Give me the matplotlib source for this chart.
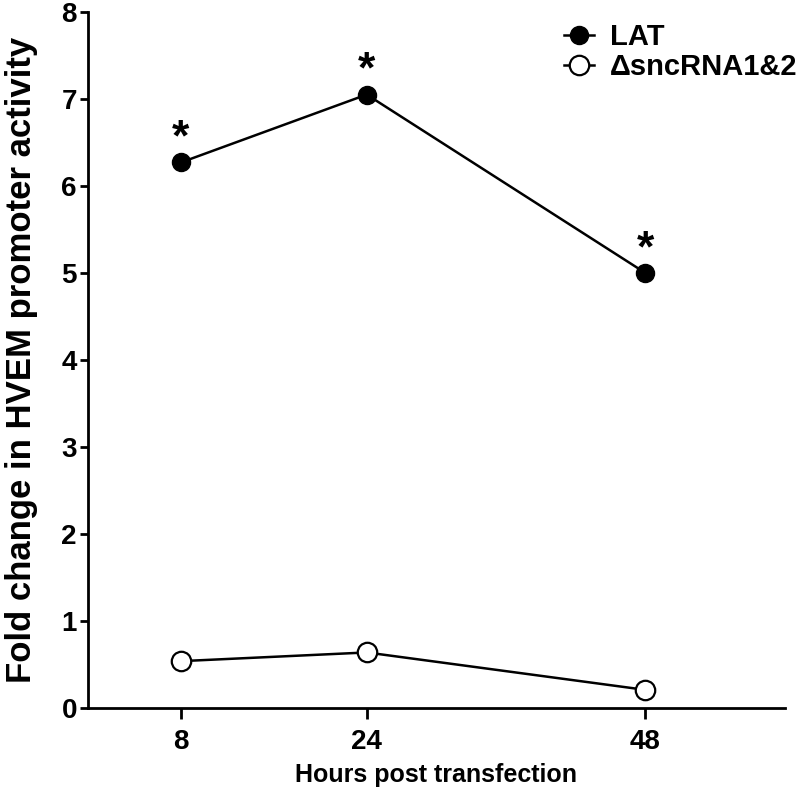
import matplotlib
matplotlib.use("Agg")
import matplotlib.pyplot as plt

hours = [8, 24, 48]
lat = [6.27, 7.05, 5.00]
delta = [0.54, 0.64, 0.21]
star_offset = 0.27

plt.rcParams["font.family"] = ["Liberation Sans", "DejaVu Sans"]
plt.rcParams["font.weight"] = "bold"

fig = plt.figure(figsize=(8, 7.93), dpi=100)
ax = fig.add_axes([0.11, 0.107, 0.871, 0.878])

ax.plot(hours, lat, "-o", color="black", lw=1.8, ms=13, label="LAT", clip_on=False)
ax.plot(hours, delta, "-o", color="black", lw=1.8, ms=14, mfc="white", mew=1.6,
        label="\u0394sncRNA1&2", clip_on=False)

for h, v in zip(hours, lat):
    ax.text(h, v + star_offset, "*", ha="center", va="center", fontsize=32, fontweight="bold")

ax.set_xlim(0, 60)
ax.set_ylim(0, 8)
ax.set_xticks(hours)
ax.set_yticks(range(0, 9))
ax.spines["top"].set_visible(False)
ax.spines["right"].set_visible(False)
for s in ["left", "bottom"]:
    ax.spines[s].set_linewidth(2)
ax.tick_params(axis="x", width=2, length=8, pad=7, labelsize=20)
ax.tick_params(axis="y", width=2, length=6, pad=2, labelsize=20)
for lbl in ax.get_xticklabels() + ax.get_yticklabels():
    lbl.set_fontweight("bold")

ax.set_xlabel("Hours post transfection", fontsize=18, fontweight="bold", labelpad=6)
ax.set_ylabel("Fold change in HVEM promoter activity", fontsize=25, fontweight="bold")
ax.yaxis.set_label_coords(-0.072, 0.5)

ax.legend(loc="upper left", bbox_to_anchor=(0.691, 0.986), bbox_transform=fig.transFigure,
          frameon=False, handlelength=1.0, handletextpad=0.55, labelspacing=0.08,
          borderaxespad=0, prop={"weight": "bold", "size": 21})

fig.savefig("out.png", dpi=100)
